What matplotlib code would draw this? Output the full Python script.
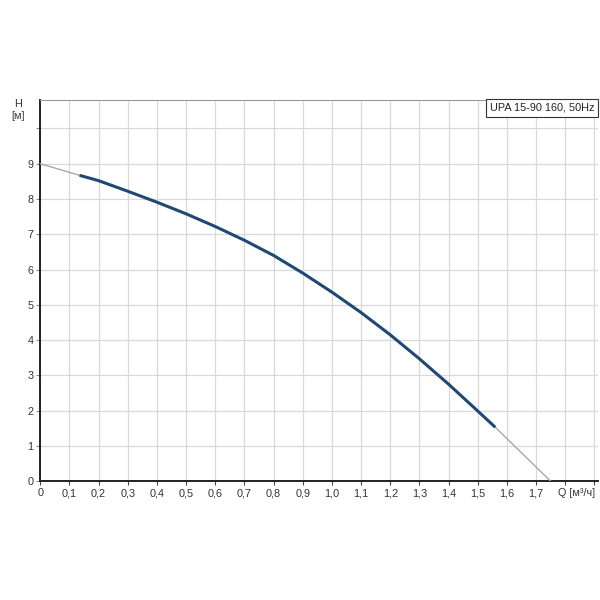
import matplotlib
matplotlib.use("Agg")
import matplotlib.pyplot as plt

plt.rcParams["font.family"] = ["Liberation Sans", "DejaVu Sans"]

# pump curve
q_main = [0.135, 0.2, 0.3, 0.4, 0.5, 0.6, 0.7, 0.8, 0.9, 1.0, 1.1, 1.2, 1.3, 1.4, 1.5, 1.56]
h_main = [8.67, 8.52, 8.22, 7.91, 7.58, 7.22, 6.83, 6.40, 5.90, 5.36, 4.78, 4.15, 3.47, 2.75, 1.99, 1.53]
q_start = [0.0, 0.135]
h_start = [9.0, 8.67]
q_end = [1.56, 1.75]
h_end = [1.53, 0.0]

x_ticks = [0, 0.1, 0.2, 0.3, 0.4, 0.5, 0.6, 0.7, 0.8, 0.9, 1.0, 1.1, 1.2, 1.3, 1.4, 1.5, 1.6, 1.7, 1.8, 1.9]
x_labels = ["0", "0,1", "0,2", "0,3", "0,4", "0,5", "0,6", "0,7", "0,8", "0,9",
            "1,0", "1,1", "1,2", "1,3", "1,4", "1,5", "1,6", "1,7", "", ""]
y_ticks = [0, 1, 2, 3, 4, 5, 6, 7, 8, 9, 10]
y_labels = ["0", "1", "2", "3", "4", "5", "6", "7", "8", "9", ""]

fig = plt.figure(figsize=(6, 6), dpi=100)
ax = fig.add_axes([0.067, 0.198, 0.93, 0.635])

ax.plot(q_start, h_start, color="#a8a8a8", lw=1.0, zorder=3)
ax.plot(q_end, h_end, color="#a8a8a8", lw=1.0, zorder=3)
ax.plot(q_main, h_main, color="#1f4872", lw=2.2, zorder=4, solid_capstyle="butt",
        solid_joinstyle="round")

ax.set_xlim(0, 1.913)
ax.set_ylim(0, 10.8)
ax.set_xticks(x_ticks)
ax.set_xticklabels(x_labels)
ax.set_yticks(y_ticks)
ax.set_yticklabels(y_labels)
ax.tick_params(labelsize=7.8, length=3, width=0.8, pad=2)
ax.tick_params(axis="y", colors="#888888", labelcolor="#333333")
ax.tick_params(axis="x", colors="#444444", labelcolor="#333333")

# axis name sits in the 1.8 slot of the x labels
ax.annotate("Q [м³/ч]", xy=(1.8, 0), xycoords=("data", "axes fraction"),
            xytext=(8, -5), textcoords="offset points", fontsize=7.8,
            color="#333333", ha="center", va="top")

ax.grid(True, color="#d9d9d9", lw=0.9)
ax.set_axisbelow(True)
for s in ["left", "bottom"]:
    ax.spines[s].set_color("#222222")
    ax.spines[s].set_linewidth(1.4)
ax.spines["top"].set_color("#999999")
ax.spines["top"].set_linewidth(0.8)
ax.spines["right"].set_visible(False)

fig.text(0.03, 0.826, "H", fontsize=7.8, color="#333333", ha="center", va="center")
fig.text(0.03, 0.806, "[м]", fontsize=7.8, color="#333333", ha="center", va="center")

ax.text(0.993, 0.993, "UPA 15-90 160, 50Hz", transform=ax.transAxes, fontsize=7.8,
        color="#222222", ha="right", va="top",
        bbox=dict(boxstyle="square,pad=0.35", fc="white", ec="#333333", lw=0.8))

fig.savefig("out.png", dpi=100)
